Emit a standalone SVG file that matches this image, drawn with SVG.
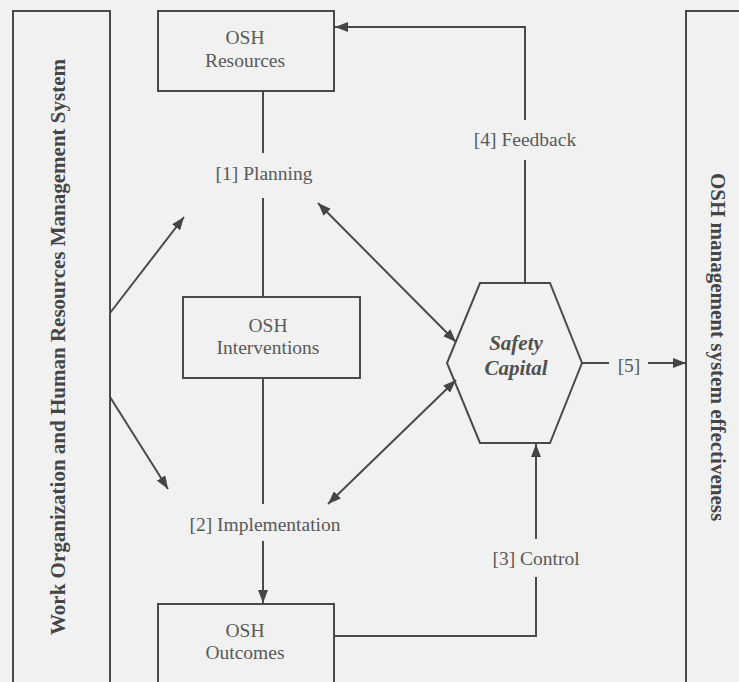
<svg xmlns="http://www.w3.org/2000/svg" width="739" height="682" viewBox="0 0 739 682">
<defs>
<marker id="ah" markerUnits="userSpaceOnUse" markerWidth="14" markerHeight="10" refX="13" refY="5" orient="auto-start-reverse">
<path d="M0,0 L13,5 L0,10 z" fill="#454545"/>
</marker>
<style>
.box{fill:none;stroke:#4a4a4a;stroke-width:2}
.ln{fill:none;stroke:#4a4a4a;stroke-width:2}
.t{font-family:"Liberation Serif","Times New Roman",serif;font-size:19.5px;fill:#595959;text-anchor:middle}
.tb{font-family:"Liberation Serif","Times New Roman",serif;font-size:21px;font-weight:bold;fill:#454545;text-anchor:middle}
.ti{font-family:"Liberation Serif","Times New Roman",serif;font-size:21px;font-weight:bold;font-style:italic;fill:#505050;text-anchor:middle}
</style>
</defs>
<rect width="739" height="682" fill="#f1f1f1"/>
<g id="work-org">
<rect class="box" x="13" y="11" width="97" height="690"/>
<text class="tb" transform="translate(65,347) rotate(-90)">Work Organization and Human Resources Management System</text>
</g>
<g id="osh-effectiveness">
<rect class="box" x="686" y="11" width="80" height="690"/>
<text class="tb" transform="translate(711,347) rotate(90)">OSH management system effectiveness</text>
</g>
<g id="osh-resources">
<rect class="box" x="158" y="11" width="176" height="80"/>
<text class="t" x="245" y="44">OSH</text>
<text class="t" x="245" y="67">Resources</text>
</g>
<g id="osh-interventions">
<rect class="box" x="183" y="297" width="177" height="81"/>
<text class="t" x="268" y="332">OSH</text>
<text class="t" x="268" y="354">Interventions</text>
</g>
<g id="osh-outcomes">
<rect class="box" x="158" y="604" width="176" height="100"/>
<text class="t" x="245" y="637">OSH</text>
<text class="t" x="245" y="659">Outcomes</text>
</g>
<g id="safety-capital">
<polygon class="box" points="480,283 550,283 582,363 550,443 480,443 447,363"/>
<text class="ti" x="516" y="350">Safety</text>
<text class="ti" x="516" y="375">Capital</text>
</g>
<g id="labels">
<text class="t" x="264" y="180">[1] Planning</text>
<text class="t" x="265" y="531">[2] Implementation</text>
<text class="t" x="536" y="565">[3] Control</text>
<text class="t" x="525" y="146">[4] Feedback</text>
<text class="t" x="629" y="372">[5]</text>
</g>
<g id="connectors">
<line class="ln" x1="263" y1="91" x2="263" y2="153"/>
<line class="ln" x1="263" y1="198" x2="263" y2="297"/>
<line class="ln" x1="263" y1="378" x2="263" y2="504"/>
<line class="ln" x1="263" y1="541" x2="263" y2="603" marker-end="url(#ah)"/>
<line class="ln" x1="110" y1="313" x2="184" y2="217" marker-end="url(#ah)"/>
<line class="ln" x1="110" y1="397" x2="168" y2="489" marker-end="url(#ah)"/>
<line class="ln" x1="318" y1="203" x2="456" y2="342" marker-start="url(#ah)" marker-end="url(#ah)"/>
<line class="ln" x1="328" y1="504" x2="456" y2="380" marker-start="url(#ah)" marker-end="url(#ah)"/>
<polyline class="ln" points="525,283 525,160"/>
<polyline class="ln" points="525,120 525,27 335,27" marker-end="url(#ah)"/>
<polyline class="ln" points="334,636 536,636 536,577"/>
<line class="ln" x1="536" y1="539" x2="536" y2="444" marker-end="url(#ah)"/>
<line class="ln" x1="582" y1="363" x2="609" y2="363"/>
<line class="ln" x1="648" y1="363" x2="686" y2="363" marker-end="url(#ah)"/>
</g>
</svg>
